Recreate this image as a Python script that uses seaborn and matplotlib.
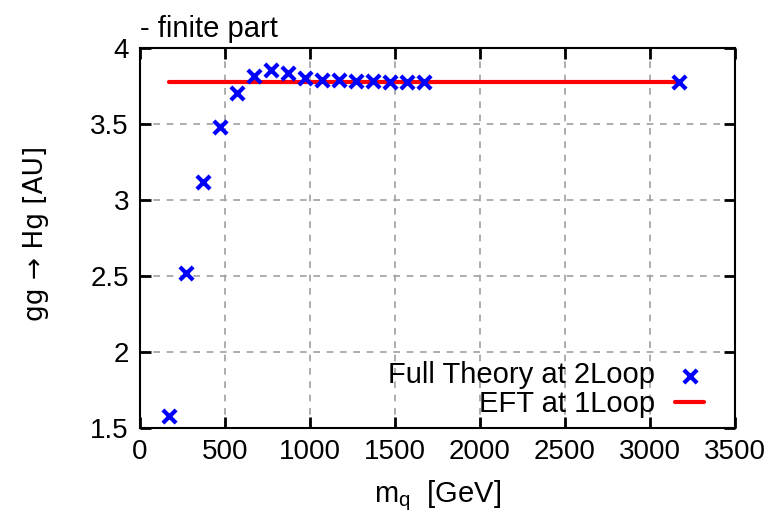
import numpy as np
import pandas as pd
import matplotlib
matplotlib.use("Agg")
import matplotlib.pyplot as plt
import seaborn as sns

# quark mass [GeV] and finite part of gg -> Hg
m_q = [170, 270, 370, 470, 570, 670, 770, 870, 970, 1070, 1170,
       1270, 1370, 1470, 1570, 1670, 3170]
full_2loop = [1.58, 2.52, 3.115, 3.48, 3.70, 3.815, 3.853, 3.835, 3.803,
              3.787, 3.785, 3.782, 3.779, 3.777, 3.775, 3.773, 3.773]
eft_x = [170, 3170]
eft_1loop = [3.772, 3.772]

df = pd.DataFrame({"m_q": m_q, "val": full_2loop})
df_eft = pd.DataFrame({"m_q": eft_x, "val": eft_1loop})

sns.set_style("ticks")
plt.rcParams["font.family"] = ["Liberation Sans", "DejaVu Sans"]
plt.rcParams["font.size"] = 20
plt.rcParams["mathtext.default"] = "regular"
plt.rcParams["text.color"] = "black"
plt.rcParams["axes.labelcolor"] = "black"
plt.rcParams["xtick.color"] = "black"
plt.rcParams["ytick.color"] = "black"

fig = plt.figure(figsize=(7.84, 5.22), dpi=100)
ax = fig.add_axes([0.1786, 0.1807, 0.7589, 0.7279])

sns.scatterplot(data=df, x="m_q", y="val", ax=ax, marker="x", s=90,
                linewidth=3, color="blue", label="Full Theory at 2Loop", zorder=3)
sns.lineplot(data=df_eft, x="m_q", y="val", ax=ax, color="red", lw=3,
             label="EFT at 1Loop", zorder=2)

ax.set_xlim(0, 3500)
ax.set_ylim(1.5, 4)
ax.set_xticks(np.arange(0, 3501, 500))
ax.set_yticks([1.5, 2, 2.5, 3, 3.5, 4])
ax.set_yticklabels(["1.5", "2", "2.5", "3", "3.5", "4"])
ax.grid(True, color="#a0a0a0", linestyle=(0, (4, 4)), lw=1.2)
ax.tick_params(direction="in", length=8, width=2, top=True, right=True,
               labelsize=20, pad=8)
for s in ax.spines.values():
    s.set_linewidth(1.5)
    s.set_color("black")

ax.set_xlabel("m$_q$  [GeV]", fontsize=21, labelpad=10)
ax.set_ylabel("gg → Hg [AU]", fontsize=19, family=["DejaVu Sans"])
ax.yaxis.set_label_coords(-0.153, 0.51)
ax.set_title("- finite part", loc="left", fontsize=21, pad=8)

leg = ax.legend(loc="lower right", bbox_to_anchor=(0.978, -0.02), frameon=False,
                markerfirst=False, fontsize=21, handlelength=1.0,
                labelspacing=0.02, handletextpad=0.7, borderaxespad=0.2)

fig.savefig("out.png", dpi=100)
